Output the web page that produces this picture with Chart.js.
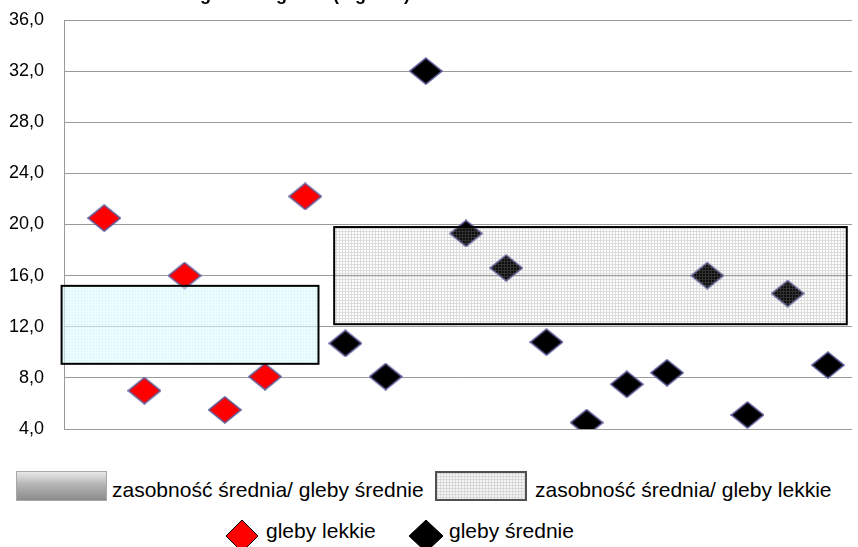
<!DOCTYPE html>
<html>
<head>
<meta charset="utf-8">
<script src="https://cdn.jsdelivr.net/npm/chart.js@4.4.1/dist/chart.umd.min.js"></script>
<style>
  html, body { margin: 0; padding: 0; background: #fff; }
  body { width: 858px; height: 547px; overflow: hidden; position: relative; font-family: "Liberation Sans", Arial, sans-serif; }
  #chart { position: absolute; left: 0; top: 0; }
  .title { position: absolute; right: 448px; top: -15px; font-weight: bold; font-size: 18px; line-height: 18px; white-space: nowrap; text-align: right; }
  .lg { position: absolute; font-size: 21px; line-height: 21px; white-space: nowrap; color: #000; }
  .sw { position: absolute; box-sizing: border-box; }
  #sw1 { left: 16px; top: 471px; width: 91px; height: 30px; border: 1px solid #a8a8a8;
         background: linear-gradient(#e8e8e8, #b4b4b4 45%, #8c8c8c); }
  #sw2 { left: 435px; top: 471px; width: 92px; height: 30px; border: 2px solid #505050; background-color: #f4f4f4;
         background-image: linear-gradient(90deg, rgba(200,200,200,.6) 1px, transparent 1px), linear-gradient(rgba(200,200,200,.6) 1px, transparent 1px);
         background-size: 3px 3px; }
  svg { position: absolute; }
</style>
</head>
<body>
<canvas id="chart" width="858" height="450"></canvas>
<div class="title">Zawartość magnezu w glebie (mg/dm³)</div>

<div class="sw" id="sw1"></div>
<div class="lg" style="left:112px; top:479px;">zasobność średnia/ gleby średnie</div>
<div class="sw" id="sw2"></div>
<div class="lg" style="left:535px; top:479px;">zasobność średnia/ gleby lekkie</div>

<svg style="left:225px; top:519px;" width="34" height="34"><polygon points="17,1 33,17 17,33 1,17" fill="#ff0000" stroke="#000" stroke-width="1"/></svg>
<div class="lg" style="left:266px; top:520px;">gleby lekkie</div>
<svg style="left:408px; top:519px;" width="36" height="34"><polygon points="18,1 35,17 18,33 1,17" fill="#000" stroke="#000" stroke-width="1"/></svg>
<div class="lg" style="left:449px; top:520px;">gleby średnie</div>

<script>
// pomiary - gleby lekkie / gleby srednie
const xLekkie = [1, 2, 3, 4, 5, 6];
const yLekkie = [20.5, 7.0, 16.0, 5.5, 8.1, 22.2];
const xSrednie = [7, 8, 9, 10, 11, 12, 13, 14, 15, 16, 17, 18, 19];
const ySrednie = [10.7, 8.1, 32.0, 19.3, 16.6, 10.8, 4.5, 7.5, 8.4, 16.0, 5.1, 14.6, 9.0];

// y axis
const yMin = 4;
const yMax = 36;
const yStep = 4;

// zakresy zasobnosci srednej (prostokaty)
const boxNames = ['gleby lekkie', 'gleby średnie'];
const boxXFrom = [-0.06, 6.72];
const boxXTo = [6.33, 19.47];
const boxYFrom = [9.1, 12.2];
const boxYTo = [15.2, 19.8];

function diamond(fill, w, h) {
    const c = document.createElement('canvas');
    c.width = w + 2;
    c.height = h + 2;
    const ctx = c.getContext('2d');
    ctx.beginPath();
    ctx.moveTo(1 + w / 2, 1);
    ctx.lineTo(w + 1, 1 + h / 2);
    ctx.lineTo(1 + w / 2, h + 1);
    ctx.lineTo(1, 1 + h / 2);
    ctx.closePath();
    ctx.fillStyle = fill;
    ctx.fill();
    ctx.lineWidth = 1.6;
    ctx.strokeStyle = '#5b5b9a';
    ctx.stroke();
    return c;
}

function makePattern(ctx, base, line) {
    const c = document.createElement('canvas');
    c.width = 3;
    c.height = 3;
    const p = c.getContext('2d');
    p.fillStyle = base;
    p.fillRect(0, 0, 3, 3);
    p.clearRect(0, 0, 3, 1);
    p.clearRect(0, 1, 1, 2);
    p.fillStyle = line;
    p.fillRect(0, 0, 3, 1);
    p.fillRect(0, 1, 1, 2);
    return ctx.createPattern(c, 'repeat');
}

const boxPlugin = {
    id: 'boxes',
    afterDatasetsDraw(chart) {
        const ctx = chart.ctx;
        const xs = chart.scales.x, ys = chart.scales.y;
        const fills = [
            makePattern(ctx, 'rgba(228,255,255,0.6)', 'rgba(205,245,248,0.6)'),
            makePattern(ctx, 'rgba(240,240,240,0.06)', 'rgba(150,150,150,0.33)')
        ];
        ctx.save();
        for (let i = 0; i < boxNames.length; i++) {
            const x1 = xs.getPixelForValue(boxXFrom[i]);
            const x2 = xs.getPixelForValue(boxXTo[i]);
            const y1 = ys.getPixelForValue(boxYTo[i]);
            const y2 = ys.getPixelForValue(boxYFrom[i]);
            ctx.fillStyle = fills[i];
            ctx.fillRect(x1, y1, x2 - x1, y2 - y1);
            ctx.lineWidth = 2;
            ctx.strokeStyle = '#000';
            ctx.strokeRect(x1, y1, x2 - x1, y2 - y1);
        }
        ctx.restore();
    }
};

const redDiamond = diamond('#ff0000', 32, 26);
const blackDiamond = diamond('#000000', 32, 26);

const noPad = s => {
    s.paddingTop = 0;
    s.paddingBottom = 0;
    s.paddingLeft = 0;
    s.paddingRight = 0;
};

new Chart(document.getElementById('chart').getContext('2d'), {
    type: 'scatter',
    data: {
        datasets: [
            {
                label: 'gleby lekkie',
                data: xLekkie.map((x, i) => ({ x: x, y: yLekkie[i] })),
                pointStyle: redDiamond,
                pointRadius: 14
            },
            {
                label: 'gleby średnie',
                data: xSrednie.map((x, i) => ({ x: x, y: ySrednie[i] })),
                pointStyle: blackDiamond,
                pointRadius: 14
            }
        ]
    },
    options: {
        responsive: false,
        animation: false,
        devicePixelRatio: 1,
        layout: { autoPadding: false, padding: { top: 20, right: 6, bottom: 21, left: 0 } },
        plugins: { legend: { display: false }, tooltip: { enabled: false } },
        scales: {
            x: { type: 'linear', min: 0, max: 19.6, display: false, afterFit: noPad },
            y: {
                min: yMin,
                max: yMax,
                ticks: {
                    stepSize: yStep,
                    padding: 20,
                    color: '#000',
                    font: { family: '"Liberation Sans", Arial, sans-serif', size: 18 },
                    callback: v => v.toFixed(1).replace('.', ',')
                },
                grid: { color: '#9a9a9a', drawTicks: false },
                border: { color: '#9a9a9a' },
                afterFit: s => {
                    noPad(s);
                    s.width = 64;
                }
            }
        }
    },
    plugins: [boxPlugin]
});
</script>
</body>
</html>
